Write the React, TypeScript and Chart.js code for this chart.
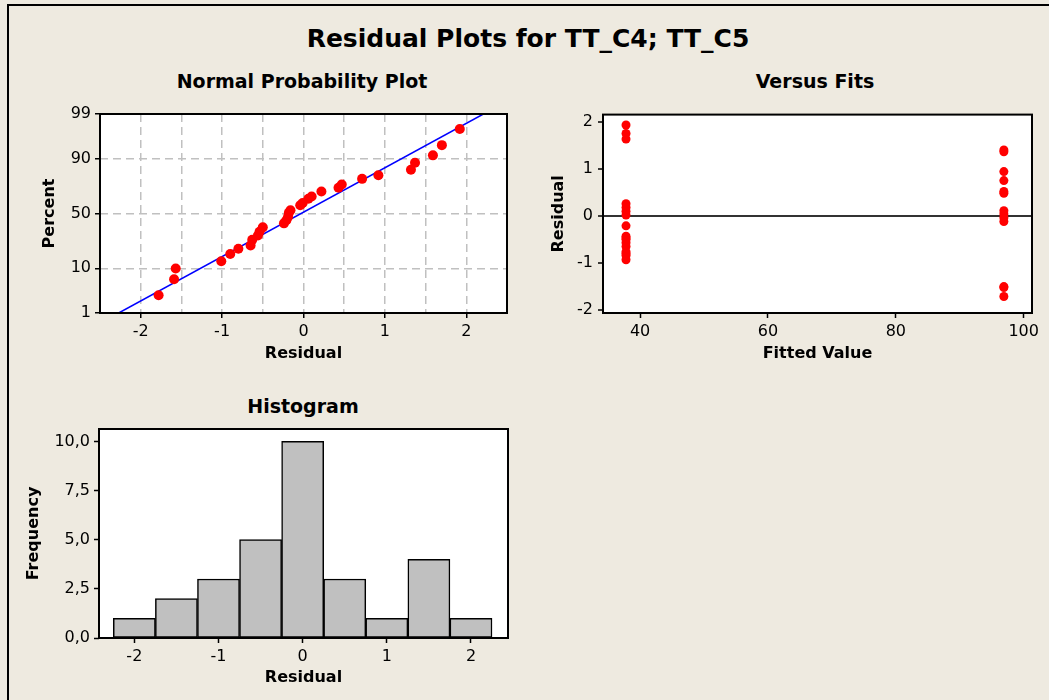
import React, { useEffect, useRef } from 'react';
import { Chart, registerables } from 'chart.js';

Chart.register(...registerables);

// ---------- Data ----------
// Normal probability plot (residual, percent)
const nppResidual = [-1.78, -1.59, -1.57, -1.01, -0.9, -0.8, -0.65, -0.63, -0.56, -0.54, -0.5, -0.24, -0.21, -0.19, -0.18, -0.16, -0.04, -0.01, 0.06, 0.1, 0.22, 0.43, 0.47, 0.72, 0.92, 1.32, 1.37, 1.59, 1.7, 1.92];
const nppPercent = [2.8, 6.2, 9.9, 13.2, 17.2, 20.5, 22.7, 26.9, 30.3, 33.5, 37.3, 40.9, 43.8, 46.9, 50.6, 53.0, 57.6, 59.7, 63.5, 65.5, 69.7, 72.6, 75.1, 79.1, 81.4, 84.7, 88.2, 91.3, 94.5, 97.6];
const fitLineResidual = [-2.27, 2.21];
const fitLinePercent = [1, 99];
const nppPercentTicks = [1, 10, 50, 90, 99];
const nppResidualGrid = [-2.5, -2, -1.5, -1, -0.5, 0, 0.5, 1, 1.5, 2, 2.5];
const nppResidualLabels = [-2, -1, 0, 1, 2];

// Versus fits
const fittedLow = 37.8;
const fittedHigh = 96.9;
const residualsAtLow = [1.93, 1.75, 1.63, 0.26, 0.18, 0.1, 0.02, -0.21, -0.43, -0.47, -0.5, -0.57, -0.65, -0.76, -0.8, -0.84, -0.93];
const residualsAtHigh = [1.4, 1.36, 0.94, 0.75, 0.52, 0.48, 0.11, 0.04, -0.04, -0.12, -1.5, -1.52, -1.71];
const fitsXTicks = [40, 60, 80, 100];
const fitsYTicks = [-2, -1, 0, 1, 2];

// Histogram
const histBinCenters = [-2, -1.5, -1, -0.5, 0, 0.5, 1, 1.5, 2];
const histCounts = [1, 2, 3, 5, 10, 3, 1, 4, 1];
const histXTicks = [-2, -1, 0, 1, 2];
const histYTicks = [0, 2.5, 5, 7.5, 10];
const histYLabels = ['0,0', '2,5', '5,0', '7,5', '10,0'];

// ---------- helpers ----------
function probit(p: number): number {
  const a = [-3.969683028665376e1, 2.209460984245205e2, -2.759285104469687e2, 1.38357751867269e2, -3.066479806614716e1, 2.506628277459239];
  const b = [-5.447609879822406e1, 1.615858368580409e2, -1.556989798598866e2, 6.680131188771972e1, -1.328068155288572e1];
  const c = [-7.784894002430293e-3, -3.223964580411365e-1, -2.400758277161838, -2.549732539343734, 4.374664141464968, 2.938163982698783];
  const d = [7.784695709041462e-3, 3.224671290700398e-1, 2.445134137142996, 3.754408661907416];
  const pl = 0.02425;
  if (p < pl) {
    const q = Math.sqrt(-2 * Math.log(p));
    return (((((c[0] * q + c[1]) * q + c[2]) * q + c[3]) * q + c[4]) * q + c[5]) / ((((d[0] * q + d[1]) * q + d[2]) * q + d[3]) * q + 1);
  }
  if (p <= 1 - pl) {
    const q = p - 0.5;
    const r = q * q;
    return ((((((a[0] * r + a[1]) * r + a[2]) * r + a[3]) * r + a[4]) * r + a[5]) * q) / (((((b[0] * r + b[1]) * r + b[2]) * r + b[3]) * r + b[4]) * r + 1);
  }
  const q = Math.sqrt(-2 * Math.log(1 - p));
  return -(((((c[0] * q + c[1]) * q + c[2]) * q + c[3]) * q + c[4]) * q + c[5]) / ((((d[0] * q + d[1]) * q + d[2]) * q + d[3]) * q + 1);
}

const FONT = "'DejaVu Sans', sans-serif";
const tickFont = { family: FONT, size: 16 };
const titleFont = { family: FONT, size: 16, weight: 'bold' as const };
const CLEAR = 'rgba(0,0,0,0)';

const framePlugin = {
  id: 'frame',
  beforeDraw(chart: any) {
    const { ctx, chartArea: a } = chart;
    ctx.save();
    ctx.fillStyle = '#FFFFFF';
    ctx.fillRect(a.left, a.top, a.right - a.left, a.bottom - a.top);
    ctx.restore();
  },
  afterDraw(chart: any) {
    const { ctx, chartArea: a } = chart;
    ctx.save();
    ctx.strokeStyle = '#000000';
    ctx.lineWidth = 2;
    ctx.strokeRect(a.left, a.top, a.right - a.left, a.bottom - a.top);
    ctx.restore();
  },
};

function baseOptions(padding: any) {
  return {
    responsive: false,
    animation: false,
    events: [],
    layout: { padding },
    plugins: { legend: { display: false }, tooltip: { enabled: false } },
  };
}

function xAxis(opts: any) {
  return {
    type: 'linear',
    position: 'bottom',
    min: opts.min,
    max: opts.max,
    offset: false,
    afterBuildTicks: (s: any) => {
      s.ticks = opts.ticks.map((v: number) => ({ value: v }));
    },
    afterFit: (s: any) => {
      s.height = opts.height;
    },
    ticks: {
      autoSkip: false,
      maxRotation: 0,
      minRotation: 0,
      font: tickFont,
      color: '#000',
      padding: 4,
      callback: opts.label,
    },
    grid: opts.grid,
    border: { display: false, dash: opts.dash || [] },
    title: { display: true, text: opts.title, font: titleFont, color: '#000', padding: { top: 0, bottom: opts.titlePad } },
  };
}

function yAxis(opts: any) {
  return {
    type: 'linear',
    position: 'left',
    min: opts.min,
    max: opts.max,
    afterBuildTicks: (s: any) => {
      s.ticks = opts.ticks.map((v: number) => ({ value: v }));
    },
    afterFit: (s: any) => {
      s.width = opts.width;
    },
    ticks: {
      autoSkip: false,
      font: tickFont,
      color: '#000',
      padding: opts.tickPad,
      callback: opts.label,
    },
    grid: opts.grid,
    border: { display: false, dash: opts.dash || [] },
    title: { display: true, text: opts.title, font: titleFont, color: '#000', padding: { top: opts.titlePad, bottom: 0 } },
  };
}

function nppConfig(): any {
  return {
    type: 'scatter',
    data: {
      datasets: [
        {
          data: nppResidual.map((r, i) => ({ x: r, y: probit(nppPercent[i] / 100) })),
          backgroundColor: '#FF0000',
          borderWidth: 0,
          pointRadius: 5,
          order: 0,
        },
        {
          type: 'line',
          data: fitLineResidual.map((r, i) => ({ x: r, y: probit(fitLinePercent[i] / 100) })),
          borderColor: '#0000FF',
          borderWidth: 1.5,
          pointRadius: 0,
          fill: false,
          order: 1,
        },
      ],
    },
    options: {
      ...baseOptions({ top: 14, right: 13, left: 0, bottom: 0 }),
      scales: {
        x: xAxis({
          min: -2.5,
          max: 2.5,
          ticks: nppResidualGrid,
          height: 57,
          title: 'Residual',
          titlePad: 7,
          dash: [8, 5],
          label: (v: number) => (nppResidualLabels.includes(v) ? String(v) : ''),
          grid: {
            color: '#C0C0C0',
            lineWidth: 1.5,
            tickColor: (c: any) => (c.tick && nppResidualLabels.includes(c.tick.value) ? '#000' : CLEAR),
            tickLength: 5,
            tickWidth: 1.5,
          },
        }),
        y: yAxis({
          min: probit(nppPercentTicks[0] / 100),
          max: probit(nppPercentTicks[nppPercentTicks.length - 1] / 100),
          ticks: nppPercentTicks.map((p) => probit(p / 100)),
          width: 80,
          title: 'Percent',
          titlePad: 20,
          tickPad: 4,
          dash: [8, 5],
          label: (_v: number, i: number) => String(nppPercentTicks[i]),
          grid: { color: '#C0C0C0', lineWidth: 1.5, tickColor: '#000', tickLength: 5, tickWidth: 1.5 },
        }),
      },
    },
    plugins: [framePlugin],
  };
}

function fitsConfig(): any {
  const pts = [
    ...residualsAtLow.map((r) => ({ x: fittedLow, y: r })),
    ...residualsAtHigh.map((r) => ({ x: fittedHigh, y: r })),
  ];
  return {
    type: 'scatter',
    data: {
      datasets: [{ data: pts, backgroundColor: '#FF0000', borderWidth: 0, pointRadius: 4.5 }],
    },
    options: {
      ...baseOptions({ top: 14, right: 17, left: 0, bottom: 0 }),
      scales: {
        x: xAxis({
          min: 34.2,
          max: 101.3,
          ticks: fitsXTicks,
          height: 57,
          title: 'Fitted Value',
          titlePad: 7,
          label: (v: number) => String(v),
          grid: { drawOnChartArea: false, tickColor: '#000', tickLength: 5, tickWidth: 1.5 },
        }),
        y: yAxis({
          min: -2.06,
          max: 2.15,
          ticks: fitsYTicks,
          width: 63,
          title: 'Residual',
          titlePad: 9,
          tickPad: 5,
          label: (v: number) => String(v),
          grid: {
            color: (c: any) => (c.tick && c.tick.value === 0 ? '#333333' : CLEAR),
            lineWidth: 2,
            tickColor: '#000',
            tickLength: 5,
            tickWidth: 1.5,
          },
        }),
      },
    },
    plugins: [framePlugin],
  };
}

function histConfig(): any {
  return {
    type: 'bar',
    data: {
      datasets: [
        {
          data: histBinCenters.map((c, i) => ({ x: c, y: histCounts[i] })),
          backgroundColor: '#C0C0C0',
          borderColor: '#000000',
          borderWidth: 1.5,
          borderSkipped: false,
          barPercentage: 1,
          categoryPercentage: 1,
        },
      ],
    },
    options: {
      ...baseOptions({ top: 14, right: 12, left: 0, bottom: 0 }),
      scales: {
        x: {
          ...xAxis({
            min: -2.42,
            max: 2.44,
            ticks: histXTicks,
            height: 62,
            title: 'Residual',
            titlePad: 13,
            label: (v: number) => String(v),
            grid: { drawOnChartArea: false, offset: false, tickColor: '#000', tickLength: 5, tickWidth: 1.5 },
          }),
        },
        y: yAxis({
          min: 0,
          max: 10.63,
          ticks: histYTicks,
          width: 79,
          title: 'Frequency',
          titlePad: 4,
          tickPad: 4,
          label: (_v: number, i: number) => histYLabels[i],
          grid: { drawOnChartArea: false, tickColor: '#000', tickLength: 5, tickWidth: 1.5 },
        }),
      },
    },
    plugins: [framePlugin],
  };
}

function ChartBox(props: { left: number; top: number; width: number; height: number; make: () => any }) {
  const ref = useRef<HTMLCanvasElement | null>(null);
  useEffect(() => {
    if (!ref.current) return;
    const chart = new Chart(ref.current, props.make());
    return () => chart.destroy();
  }, []);
  return (
    <canvas
      ref={ref}
      width={props.width}
      height={props.height}
      style={{ position: 'absolute', left: props.left, top: props.top, width: props.width, height: props.height }}
    />
  );
}

function Title(props: { text: string; cx: number; top: number; size: number }) {
  return (
    <div
      style={{
        position: 'absolute',
        left: props.cx - 300,
        width: 600,
        top: props.top,
        textAlign: 'center',
        fontFamily: FONT,
        fontWeight: 'bold',
        fontSize: props.size,
        lineHeight: `${props.size}px`,
        whiteSpace: 'nowrap',
        color: '#000',
      }}
    >
      {props.text}
    </div>
  );
}

export default function App() {
  useEffect(() => {
    document.body.style.margin = '0';
    document.body.style.background = '#EEEAE0';
  }, []);
  return (
    <div style={{ position: 'relative', width: 1049, height: 700, background: '#EEEAE0', overflow: 'hidden' }}>
      <div
        style={{
          position: 'absolute',
          left: 7,
          top: 4,
          right: -10,
          bottom: -10,
          borderTop: '2px solid #000',
          borderLeft: '2px solid #000',
        }}
      />
      <Title text="Residual Plots for TT_C4; TT_C5" cx={528} top={25.5} size={25} />
      <Title text="Normal Probability Plot" cx={302} top={71.5} size={19} />
      <Title text="Versus Fits" cx={815} top={71.5} size={19} />
      <Title text="Histogram" cx={303} top={396.5} size={19} />
      <ChartBox left={20} top={100} width={500} height={270} make={nppConfig} />
      <ChartBox left={540} top={100} width={509} height={270} make={fitsConfig} />
      <ChartBox left={20} top={415} width={500} height={285} make={histConfig} />
    </div>
  );
}
